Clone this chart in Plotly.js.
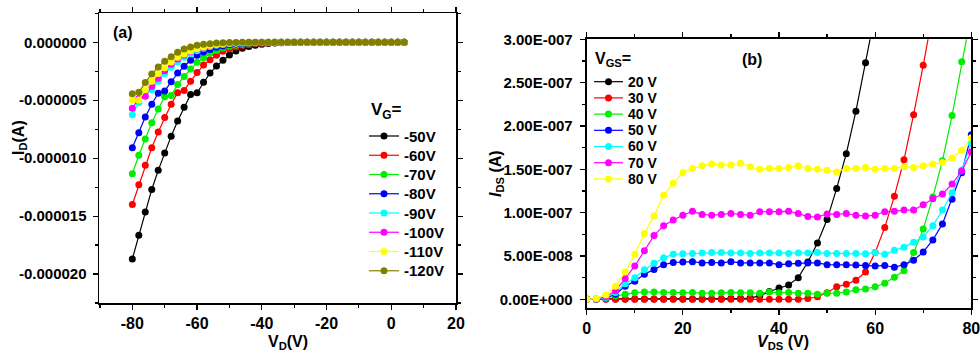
<!DOCTYPE html>
<html>
<head>
<meta charset="utf-8">
<script src="https://cdn.plot.ly/plotly-3.0.1.min.js"></script>
<style>html,body{margin:0;padding:0;background:#fff;}#chart{width:980px;height:356px;}</style>
</head>
<body>
<div id="chart"></div>
<script>
// ---------- Panel (a): output curves, I_D vs V_D ----------
const vdA = [-80,-78,-76,-74,-72,-70,-68,-66,-64,-62,-60,-58,-56,-54,-52,-50,-48,-46,-44,-42,-40,-38,-36,-34,-32,-30,-28,-26,-24,-22,-20,-18,-16,-14,-12,-10,-8,-6,-4,-2,0,2,4];
const namesA = ['-50V','-60V','-70V','-80V','-90V','-100V','-110V','-120V'];
const colorsA = ['#000000','#ff0000','#00ee00','#0000ff','#00ffff','#ff00ff','#ffff00','#808000'];
const idA_50 = [-18.7e-6,-16.65e-6,-14.65e-6,-12.7e-6,-11.05e-6,-9.55e-6,-8.1e-6,-6.8e-6,-5.6e-6,-4.5e-6,-4.35e-6,-3.45e-6,-2.65e-6,-2.05e-6,-1.55e-6,-1.1e-6,-0.75e-6,-0.52e-6,-0.37e-6,-0.26e-6,-0.16e-6,-0.1e-6,-0.06e-6,-0.04e-6,-0.02e-6,-0.01e-6,0,0,0,0,0,0,0,0,0,0,0,0,0,0,0,0,0];
const idA_60 = [-14.0e-6,-12.3e-6,-10.6e-6,-9.1e-6,-7.75e-6,-6.5e-6,-5.35e-6,-4.35e-6,-4.15e-6,-3.35e-6,-2.6e-6,-1.95e-6,-1.5e-6,-1.12e-6,-0.78e-6,-0.55e-6,-0.4e-6,-0.28e-6,-0.2e-6,-0.13e-6,-0.08e-6,-0.05e-6,-0.03e-6,-0.02e-6,-0.01e-6,0,0,0,0,0,0,0,0,0,0,0,0,0,0,0,0,0,0];
const idA_70 = [-11.35e-6,-9.75e-6,-8.35e-6,-6.95e-6,-5.75e-6,-4.7e-6,-4.58e-6,-3.65e-6,-2.95e-6,-2.3e-6,-1.73e-6,-1.33e-6,-0.95e-6,-0.7e-6,-0.5e-6,-0.35e-6,-0.25e-6,-0.17e-6,-0.11e-6,-0.07e-6,-0.04e-6,-0.02e-6,-0.01e-6,0,0,0,0,0,0,0,0,0,0,0,0,0,0,0,0,0,0,0,0];
const idA_80 = [-9.1e-6,-7.8e-6,-6.45e-6,-5.35e-6,-4.4e-6,-4.2e-6,-3.4e-6,-2.65e-6,-2.07e-6,-1.55e-6,-1.12e-6,-0.84e-6,-0.61e-6,-0.43e-6,-0.31e-6,-0.22e-6,-0.15e-6,-0.1e-6,-0.06e-6,-0.04e-6,-0.02e-6,-0.01e-6,0,0,0,0,0,0,0,0,0,0,0,0,0,0,0,0,0,0,0,0,0];
const idA_90 = [-6.25e-6,-5.2e-6,-4.3e-6,-4.1e-6,-3.35e-6,-2.7e-6,-2.15e-6,-1.7e-6,-1.3e-6,-0.98e-6,-0.72e-6,-0.52e-6,-0.37e-6,-0.26e-6,-0.18e-6,-0.12e-6,-0.08e-6,-0.05e-6,-0.03e-6,-0.02e-6,-0.01e-6,0,0,0,0,0,0,0,0,0,0,0,0,0,0,0,0,0,0,0,0,0,0];
const idA_100 = [-5.7e-6,-4.85e-6,-4.65e-6,-3.8e-6,-3.1e-6,-2.45e-6,-1.9e-6,-1.45e-6,-1.1e-6,-0.8e-6,-0.58e-6,-0.42e-6,-0.3e-6,-0.2e-6,-0.13e-6,-0.09e-6,-0.06e-6,-0.04e-6,-0.02e-6,-0.01e-6,0,0,0,0,0,0,0,0,0,0,0,0,0,0,0,0,0,0,0,0,0,0,0];
const idA_110 = [-4.98e-6,-4.98e-6,-4.1e-6,-3.35e-6,-2.7e-6,-2.2e-6,-1.7e-6,-1.3e-6,-1.0e-6,-0.75e-6,-0.55e-6,-0.4e-6,-0.28e-6,-0.19e-6,-0.12e-6,-0.08e-6,-0.05e-6,-0.03e-6,-0.02e-6,-0.01e-6,0,0,0,0,0,0,0,0,0,0,0,0,0,0,0,0,0,0,0,0,0,0,0];
const idA_120 = [-4.44e-6,-4.32e-6,-3.46e-6,-2.74e-6,-2.13e-6,-1.64e-6,-1.24e-6,-0.86e-6,-0.58e-6,-0.4e-6,-0.26e-6,-0.17e-6,-0.12e-6,-0.07e-6,-0.04e-6,-0.02e-6,-0.01e-6,0,0,0,0,0,0,0,0,0,0,0,0,0,0,0,0,0,0,0,0,0,0,0,0,0,0];
const xTickValsA = [-80,-60,-40,-20,0,20];
const xTickTextA = ['-80','-60','-40','-20','0','20'];
const yTickValsA = [0,-5e-6,-10e-6,-15e-6,-20e-6];
const yTickTextA = ['0.000000','-0.000005','-0.000010','-0.000015','-0.000020'];

// ---------- Panel (b): I_DS vs V_DS ----------
const vdsB = [0,2,4,6,8,10,12,14,16,18,20,22,24,26,28,30,32,34,36,38,40,42,44,46,48,50,52,54,56,58,60,62,64,66,68,70,72,74,76,78,80];
const namesB = ['20 V','30 V','40 V','50 V','60 V','70 V','80 V'];
const colorsB = ['#000000','#ff0000','#00ee00','#0000ff','#00ffff','#ff00ff','#ffff00'];
const idsB_20 = [0,0.05e-8,0.05e-8,0.05e-8,0.05e-8,0.05e-8,0.05e-8,0.05e-8,0.05e-8,0.05e-8,0.05e-8,0.05e-8,0.05e-8,0.05e-8,0.05e-8,0.1e-8,0.1e-8,0.15e-8,0.4e-8,0.9e-8,1.3e-8,1.65e-8,2.5e-8,4.3e-8,6.5e-8,9.2e-8,12.8e-8,16.8e-8,21.7e-8,27.3e-8,33e-8];
const idsB_30 = [0,0,0,0,0,0,0,0,0,0,0,0,0,0,0,0,0,0,0,0,0,0,0,0.1e-8,0.3e-8,0.75e-8,1.45e-8,1.73e-8,2.2e-8,3.15e-8,5.4e-8,8.3e-8,11.9e-8,16.1e-8,21.3e-8,27.0e-8,33e-8];
const idsB_40 = [0,0.05e-8,0.15e-8,0.4e-8,0.58e-8,0.75e-8,0.85e-8,0.85e-8,0.8e-8,0.8e-8,0.75e-8,0.8e-8,0.7e-8,0.7e-8,0.75e-8,0.8e-8,0.75e-8,0.75e-8,0.7e-8,0.85e-8,0.75e-8,0.8e-8,0.7e-8,0.7e-8,0.58e-8,0.7e-8,0.7e-8,0.85e-8,1.1e-8,1.2e-8,1.45e-8,1.85e-8,2.55e-8,3.3e-8,5.4e-8,8.1e-8,11.8e-8,16.0e-8,21.2e-8,27.4e-8,33e-8];
const idsB_50 = [0,0.05e-8,0.2e-8,0.6e-8,1.5e-8,2.1e-8,2.9e-8,3.45e-8,4.0e-8,4.25e-8,4.3e-8,4.35e-8,4.2e-8,4.25e-8,4.2e-8,4.35e-8,4.2e-8,4.2e-8,4.2e-8,4.2e-8,4.0e-8,4.1e-8,4.15e-8,4.2e-8,4.2e-8,4.0e-8,4.0e-8,4.0e-8,3.95e-8,3.9e-8,3.85e-8,3.9e-8,3.7e-8,4.0e-8,4.5e-8,5.45e-8,6.85e-8,8.7e-8,11.55e-8,14.6e-8,19.0e-8];
const idsB_60 = [0,0.05e-8,0.2e-8,0.8e-8,1.8e-8,2.5e-8,3.4e-8,4.15e-8,4.8e-8,5.2e-8,5.25e-8,5.3e-8,5.35e-8,5.4e-8,5.4e-8,5.35e-8,5.35e-8,5.3e-8,5.35e-8,5.35e-8,5.35e-8,5.3e-8,5.35e-8,5.35e-8,5.4e-8,5.3e-8,5.3e-8,5.3e-8,5.3e-8,5.25e-8,5.4e-8,5.2e-8,5.65e-8,6.0e-8,6.6e-8,7.2e-8,8.5e-8,10.3e-8,12.3e-8,14.9e-8,18.0e-8];
const idsB_70 = [0,0.05e-8,0.3e-8,1.0e-8,2.4e-8,3.85e-8,5.6e-8,7.35e-8,8.5e-8,9.15e-8,9.7e-8,10.15e-8,9.8e-8,9.7e-8,9.8e-8,9.9e-8,9.8e-8,9.7e-8,10.1e-8,10.1e-8,10.1e-8,10.15e-8,9.9e-8,9.55e-8,9.5e-8,9.85e-8,9.8e-8,9.9e-8,9.7e-8,9.6e-8,9.7e-8,10.1e-8,10.15e-8,10.3e-8,10.3e-8,10.9e-8,11.6e-8,12.15e-8,13.3e-8,14.8e-8,17.0e-8];
const idsB_80 = [0,0.1e-8,0.5e-8,1.5e-8,3.15e-8,5.2e-8,7.6e-8,9.6e-8,12.0e-8,13.4e-8,14.6e-8,15.1e-8,15.4e-8,15.6e-8,15.5e-8,15.5e-8,15.7e-8,15.3e-8,15.0e-8,15.1e-8,15.1e-8,15.2e-8,15.4e-8,15.1e-8,15.0e-8,14.9e-8,14.7e-8,15.1e-8,15.1e-8,15.2e-8,15.0e-8,15.1e-8,15.1e-8,15.3e-8,15.2e-8,15.4e-8,15.6e-8,15.8e-8,16.3e-8,17.2e-8,18.65e-8];
const xTickValsB = [0,20,40,60,80];
const xTickTextB = ['0','20','40','60','80'];
const yTickValsB = [0,5e-8,10e-8,15e-8,20e-8,25e-8,30e-8];
const yTickTextB = ['0.00E+000','5.00E-008','1.00E-007','1.50E-007','2.00E-007','2.50E-007','3.00E-007'];

const seriesA = [idA_50,idA_60,idA_70,idA_80,idA_90,idA_100,idA_110,idA_120];
const seriesB = [idsB_20,idsB_30,idsB_40,idsB_50,idsB_60,idsB_70,idsB_80];

const FONT = 'Liberation Sans, Arial, sans-serif';
const W = 980, H = 356;
const px = v => v / W, py = v => 1 - v / H;

const traces = [];
seriesA.forEach((ys, i) => {
  traces.push({
    type: 'scatter', mode: 'lines+markers', x: vdA, y: ys, name: namesA[i],
    xaxis: 'x', yaxis: 'y', showlegend: false,
    line: {color: colorsA[i], width: 1.2},
    marker: {color: colorsA[i], size: 7, symbol: 'circle'}
  });
});
seriesB.forEach((ys, i) => {
  traces.push({
    type: 'scatter', mode: 'lines+markers', x: vdsB.slice(0, ys.length), y: ys, name: namesB[i],
    xaxis: 'x2', yaxis: 'y2', showlegend: false,
    line: {color: colorsB[i], width: 1.2},
    marker: {color: colorsB[i], size: 7, symbol: 'circle'}
  });
});

// ---------- legend boxes (layout only) ----------
const shapes = [];
const annotations = [];
function addLegend(names, colors, lineX0, lineX1, textX, y0, dy, fontSize, mk) {
  names.forEach((nm, i) => {
    const cy = y0 + i * dy;
    shapes.push({type: 'line', xref: 'paper', yref: 'paper', x0: px(lineX0), x1: px(lineX1), y0: py(cy), y1: py(cy),
      line: {color: colors[i], width: 1.2}});
    const cx = (lineX0 + lineX1) / 2;
    shapes.push({type: 'circle', xref: 'paper', yref: 'paper', xsizemode: 'pixel', ysizemode: 'pixel',
      xanchor: px(cx), yanchor: py(cy), x0: -mk / 2, x1: mk / 2, y0: -mk / 2, y1: mk / 2,
      fillcolor: colors[i], line: {color: colors[i], width: 0}});
    annotations.push({text: nm, x: px(textX), y: py(cy), xref: 'paper', yref: 'paper', showarrow: false,
      xanchor: 'left', yanchor: 'middle', font: {family: FONT, size: fontSize, weight: 'bold', color: '#000'}});
  });
}
addLegend(namesA, colorsA, 369, 399, 402, 136, 19.25, 15, 7);
addLegend(namesB, colorsB, 594, 623, 626, 81.7, 16.2, 14, 7);

const textItems = [
  ['(a)', 123, 32, 16, 0, 'center'],
  ['(b)', 752, 59, 16, 0, 'center'],
  ['V<sub>G</sub>=', 369, 111, 17, 0, 'left'],
  ['V<sub>GS</sub>=', 593, 60, 16, 0, 'left'],
  ['I<sub>D</sub>(A)', 20, 138, 16, -90, 'center'],
  ['V<sub>D</sub>(V)', 288, 342, 16, 0, 'center'],
  ['<i>I</i><sub>DS</sub> (A)', 496, 173, 16, -90, 'center'],
  ['<i>V</i><sub>DS</sub> (V)', 783, 342, 16, 0, 'center']
];
textItems.forEach(t => {
  annotations.push({text: t[0], x: px(t[1]), y: py(t[2]), xref: 'paper', yref: 'paper', showarrow: false,
    xanchor: t[5], yanchor: 'middle', textangle: t[4], font: {family: FONT, size: t[3], weight: 'bold', color: '#000'}});
});

const xTickFont = {family: FONT, size: 16, color: '#000', weight: 'bold'};
const yTickFont = {family: FONT, size: 15, color: '#000', weight: 'bold'};
const axCommon = {
  showgrid: false, zeroline: false, showline: true, linecolor: '#000', linewidth: 1.5,
  mirror: 'allticks', ticks: 'outside', ticklen: 5, tickwidth: 1.2, tickcolor: '#000',
  tickmode: 'array', fixedrange: true, ticklabeloverflow: 'allow'
};
const minorTicks = (dt, t0) => ({ticks: 'outside', ticklen: 3, tickwidth: 1.2, tickcolor: '#000', dtick: dt, tick0: t0});

const layout = {
  width: W, height: H, margin: {l: 0, r: 0, t: 0, b: 0},
  paper_bgcolor: '#fff', plot_bgcolor: '#fff',
  font: {family: FONT, color: '#000'},
  showlegend: false,
  xaxis: Object.assign({}, axCommon, {
    domain: [px(99), px(456)], anchor: 'y', range: [-90.3, 20], tickfont: xTickFont,
    tickvals: xTickValsA, ticktext: xTickTextA, minor: minorTicks(10, -90)
  }),
  yaxis: Object.assign({}, axCommon, {
    domain: [py(303), py(13)], anchor: 'x', range: [-22.5e-6, 2.53e-6], tickfont: yTickFont,
    tickvals: yTickValsA, ticktext: yTickTextA, minor: minorTicks(2.5e-6, 0), ticklabelstandoff: 3
  }),
  xaxis2: Object.assign({}, axCommon, {
    domain: [px(586.7), px(971.3)], anchor: 'y2', range: [0, 80], linewidth: 2, tickfont: xTickFont,
    tickvals: xTickValsB, ticktext: xTickTextB, minor: minorTicks(10, 0)
  }),
  yaxis2: Object.assign({}, axCommon, {
    domain: [py(308), py(39.3)], anchor: 'x2', range: [-1.0e-8, 30e-8], linewidth: 2, tickfont: yTickFont,
    tickvals: yTickValsB, ticktext: yTickTextB, minor: minorTicks(2.5e-8, 0), ticklabelstandoff: 4
  }),
  shapes: shapes,
  annotations: annotations
};

Plotly.newPlot('chart', traces, layout, {displayModeBar: false, staticPlot: true});
</script>
</body>
</html>
